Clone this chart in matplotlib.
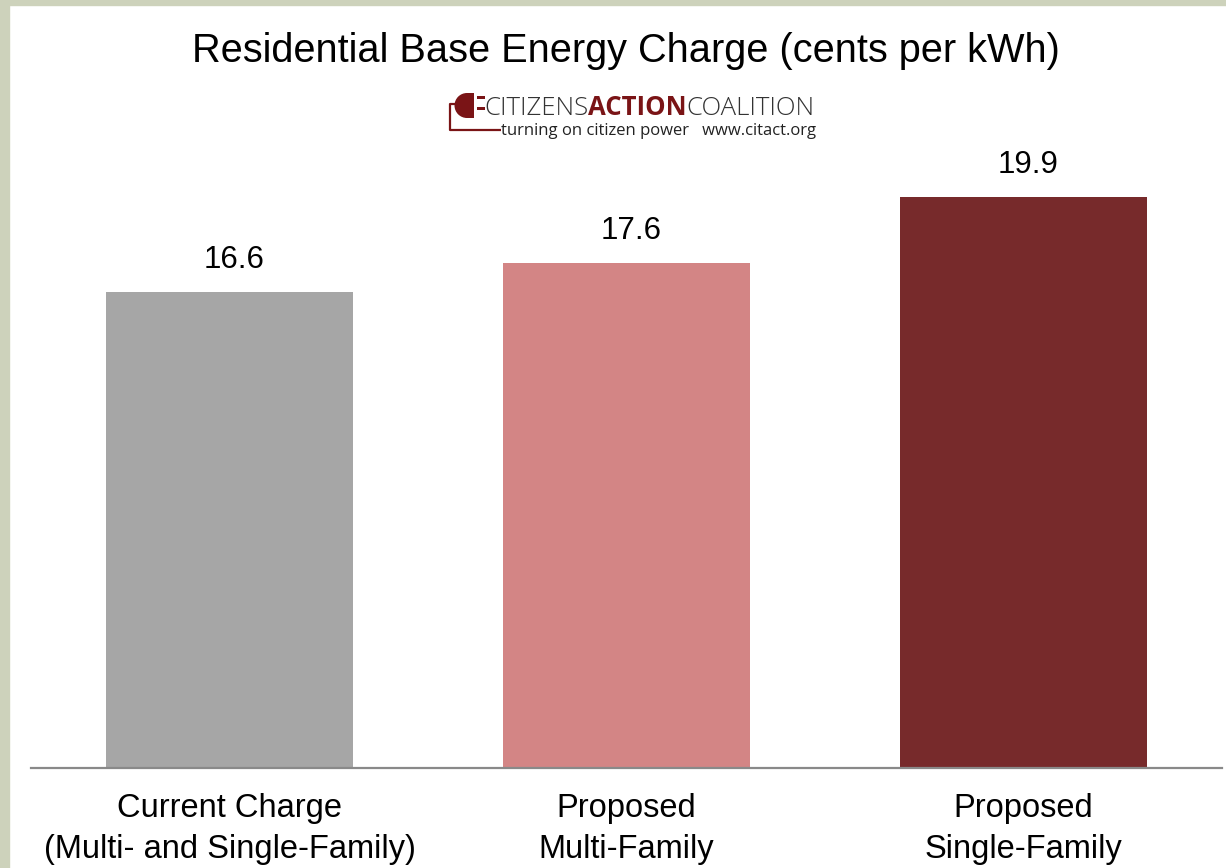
import matplotlib
matplotlib.use("Agg")
import matplotlib.pyplot as plt
from matplotlib.patches import Rectangle, Wedge

# data
categories = ["Current Charge\n(Multi- and Single-Family)",
              "Proposed\nMulti-Family",
              "Proposed\nSingle-Family"]
values = [16.6, 17.6, 19.9]
colors = ["#a6a6a6", "#d38585", "#772a2b"]
title = "Residential Base Energy Charge (cents per kWh)"

W, H = 1226, 868
fig = plt.figure(figsize=(W / 100, H / 100), dpi=100)
fig.patch.set_facecolor("white")

# page frame (green-gray strips on the left and top)
fig.patches.append(Rectangle((0, 0), 9 / W, 1, transform=fig.transFigure,
                             color="#cdd2bb", zorder=0))
fig.patches.append(Rectangle((0, 1 - 5 / H), 1, 5 / H, transform=fig.transFigure,
                             color="#cdd2bb", zorder=0))

# main axes: x from 31px to 1222px, zero line at y=768px
ymax = 25
px_per_unit = 28.69
ax = fig.add_axes([31 / W, (H - 768) / H, 1191 / W, ymax * px_per_unit / H])
ax.set_facecolor("none")
x = range(len(values))
bars = ax.bar(x, values, width=0.622, color=colors)
ax.set_xlim(-0.5, 2.5)
ax.set_ylim(0, ymax)
for s in ["top", "left", "right"]:
    ax.spines[s].set_visible(False)
ax.spines["bottom"].set_color("#898989")
ax.spines["bottom"].set_linewidth(1.6)
ax.set_yticks([])
ax.set_xticks(list(x))
ax.set_xticklabels(categories, fontsize=23.5, family="Liberation Sans",
                   linespacing=1.4)
ax.tick_params(axis="x", length=0, pad=18)
for b, v in zip(bars, values):
    ax.annotate(f"{v:.1f}", (b.get_x() + b.get_width() / 2, v),
                xytext=(3, 12), textcoords="offset points",
                ha="center", va="bottom", fontsize=22.5, family="Liberation Sans")

# overlay in pixel coordinates for title and logo
ov = fig.add_axes([0, 0, 1, 1], zorder=5)
ov.set_xlim(0, W)
ov.set_ylim(H, 0)
ov.axis("off")
ov.patch.set_alpha(0)

ov.text(626, 51, title, ha="center", va="center", fontsize=28.6,
        family="Liberation Sans")

# logo
red = "#7a1416"
ov.add_patch(Rectangle((467, 93), 7, 25, color=red, lw=0))
ov.add_patch(Wedge((467, 105.5), 12.5, 90, 270, color=red, lw=0))
ov.add_patch(Rectangle((477, 96), 8, 3, color=red, lw=0))
ov.add_patch(Rectangle((477, 107), 8, 3, color=red, lw=0))
ov.plot([455, 450, 450, 501], [104, 104, 130, 130], color=red, lw=1.6,
        solid_capstyle="butt")

fig.canvas.draw()
r = fig.canvas.get_renderer()
xpos = 484
for word, col, wt in [("CITIZENS", "#333333", "light"),
                      ("ACTION", red, "bold"),
                      ("COALITION", "#333333", "light")]:
    t = ov.text(xpos, 115, word, ha="left", va="baseline", fontsize=18.5,
                color=col, weight=wt, family="Open Sans")
    bb = t.get_window_extent(r)
    xpos += bb.width
ov.text(501, 135, "turning on citizen power   www.citact.org", ha="left",
        va="baseline", fontsize=12, color="#222222", family="Open Sans")

fig.savefig("out.png", dpi=100)
